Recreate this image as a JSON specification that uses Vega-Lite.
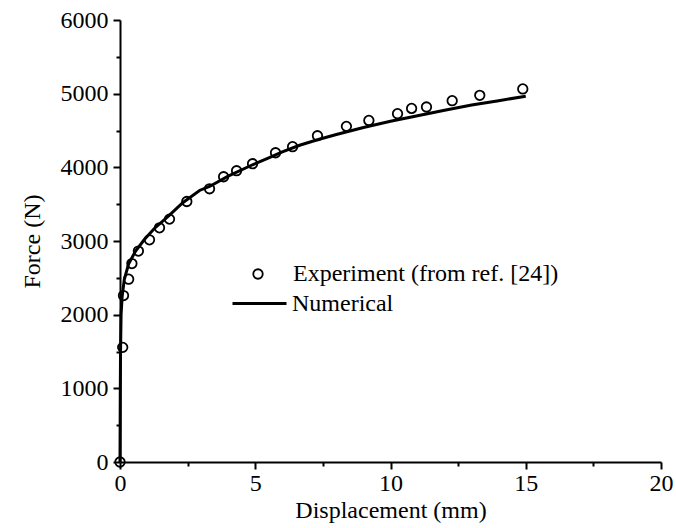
{
  "$schema": "https://vega.github.io/schema/vega-lite/v6.json",
  "width": 541,
  "height": 442,
  "autosize": {"type": "none"},
  "padding": {"left": 120, "top": 20, "right": 15, "bottom": 66},
  "background": "white",
  "config": {
    "view": {"stroke": null},
    "font": "Liberation Serif",
    "axis": {
      "labelFont": "Liberation Serif",
      "titleFont": "Liberation Serif",
      "labelFontSize": 24,
      "titleFontSize": 24,
      "titleFontWeight": "normal",
      "labelColor": "black",
      "titleColor": "black",
      "domainColor": "black",
      "tickColor": "black",
      "domainWidth": 2,
      "tickWidth": 2,
      "grid": false
    },
    "legend": {
      "labelFont": "Liberation Serif",
      "labelFontSize": 24,
      "labelColor": "black",
      "labelLimit": 500,
      "padding": 0
    }
  },
  "datasets": {
    "exp": [
      {"x": 0, "y": 0, "series": "Experiment (from ref. [24])"},
      {"x": 0.1, "y": 1556, "series": "Experiment (from ref. [24])"},
      {"x": 0.13, "y": 2259, "series": "Experiment (from ref. [24])"},
      {"x": 0.32, "y": 2482, "series": "Experiment (from ref. [24])"},
      {"x": 0.44, "y": 2694, "series": "Experiment (from ref. [24])"},
      {"x": 0.68, "y": 2863, "series": "Experiment (from ref. [24])"},
      {"x": 1.09, "y": 3016, "series": "Experiment (from ref. [24])"},
      {"x": 1.46, "y": 3179, "series": "Experiment (from ref. [24])"},
      {"x": 1.83, "y": 3297, "series": "Experiment (from ref. [24])"},
      {"x": 2.47, "y": 3536, "series": "Experiment (from ref. [24])"},
      {"x": 3.31, "y": 3709, "series": "Experiment (from ref. [24])"},
      {"x": 3.83, "y": 3872, "series": "Experiment (from ref. [24])"},
      {"x": 4.31, "y": 3954, "series": "Experiment (from ref. [24])"},
      {"x": 4.9, "y": 4049, "series": "Experiment (from ref. [24])"},
      {"x": 5.75, "y": 4198, "series": "Experiment (from ref. [24])"},
      {"x": 6.38, "y": 4280, "series": "Experiment (from ref. [24])"},
      {"x": 7.3, "y": 4429, "series": "Experiment (from ref. [24])"},
      {"x": 8.37, "y": 4556, "series": "Experiment (from ref. [24])"},
      {"x": 9.2, "y": 4637, "series": "Experiment (from ref. [24])"},
      {"x": 10.26, "y": 4728, "series": "Experiment (from ref. [24])"},
      {"x": 10.78, "y": 4800, "series": "Experiment (from ref. [24])"},
      {"x": 11.33, "y": 4819, "series": "Experiment (from ref. [24])"},
      {"x": 12.28, "y": 4905, "series": "Experiment (from ref. [24])"},
      {"x": 13.3, "y": 4977, "series": "Experiment (from ref. [24])"},
      {"x": 14.89, "y": 5064, "series": "Experiment (from ref. [24])"}
    ],
    "num": [
      {"x": 0, "y": 0, "series": "Numerical"},
      {"x": 0.01, "y": 900, "series": "Numerical"},
      {"x": 0.02, "y": 1500, "series": "Numerical"},
      {"x": 0.04, "y": 2000, "series": "Numerical"},
      {"x": 0.08, "y": 2250, "series": "Numerical"},
      {"x": 0.16, "y": 2480, "series": "Numerical"},
      {"x": 0.32, "y": 2690, "series": "Numerical"},
      {"x": 0.57, "y": 2860, "series": "Numerical"},
      {"x": 0.9, "y": 3020, "series": "Numerical"},
      {"x": 1.27, "y": 3170, "series": "Numerical"},
      {"x": 1.8, "y": 3340, "series": "Numerical"},
      {"x": 2.32, "y": 3520, "series": "Numerical"},
      {"x": 2.94, "y": 3686, "series": "Numerical"},
      {"x": 3.31, "y": 3740, "series": "Numerical"},
      {"x": 4, "y": 3880, "series": "Numerical"},
      {"x": 4.9, "y": 4035, "series": "Numerical"},
      {"x": 5.5, "y": 4130, "series": "Numerical"},
      {"x": 6, "y": 4210, "series": "Numerical"},
      {"x": 6.64, "y": 4300, "series": "Numerical"},
      {"x": 7.3, "y": 4375, "series": "Numerical"},
      {"x": 8, "y": 4445, "series": "Numerical"},
      {"x": 9, "y": 4540, "series": "Numerical"},
      {"x": 10, "y": 4625, "series": "Numerical"},
      {"x": 11, "y": 4700, "series": "Numerical"},
      {"x": 12, "y": 4775, "series": "Numerical"},
      {"x": 13, "y": 4845, "series": "Numerical"},
      {"x": 14, "y": 4905, "series": "Numerical"},
      {"x": 15, "y": 4966, "series": "Numerical"}
    ]
  },
  "encoding": {
    "x": {
      "field": "x",
      "type": "quantitative",
      "scale": {"domain": [0, 20], "nice": false, "zero": false},
      "axis": {
        "title": "Displacement (mm)",
        "values": [0, 2.5, 5, 7.5, 10, 12.5, 15, 17.5, 20],
        "labelExpr": "datum.value % 5 === 0 ? datum.label : ''",
        "tickSize": {"condition": {"test": "datum.value % 5 === 0", "value": 7}, "value": 4},
        "labelPadding": 2,
        "titlePadding": 3,
        "labelFlush": false,
        "labelOverlap": false
      }
    },
    "y": {
      "field": "y",
      "type": "quantitative",
      "scale": {"domain": [0, 6000], "nice": false},
      "axis": {
        "title": "Force (N)",
        "values": [0, 500, 1000, 1500, 2000, 2500, 3000, 3500, 4000, 4500, 5000, 5500, 6000],
        "labelExpr": "datum.value % 1000 === 0 ? datum.label : ''",
        "format": "d",
        "tickSize": {"condition": {"test": "datum.value % 1000 === 0", "value": 7}, "value": 4},
        "labelPadding": 5,
        "titlePadding": 16,
        "labelFlush": false,
        "labelOverlap": false
      }
    }
  },
  "layer": [
    {
      "data": {"name": "num"},
      "mark": {"type": "line", "strokeWidth": 3, "color": "black"},
      "encoding": {
        "color": {
          "field": "series",
          "type": "nominal",
          "scale": {"range": ["black"]},
          "legend": {
            "title": null,
            "orient": "none",
            "legendX": 111,
            "legendY": 255,
            "symbolType": "stroke",
            "symbolSize": 2916,
            "symbolStrokeWidth": 3,
            "symbolStrokeColor": "black",
            "labelOffset": 4
          }
        }
      }
    },
    {
      "data": {"name": "exp"},
      "mark": {"type": "point", "shape": "circle", "filled": false, "size": 90, "strokeWidth": 1.8, "color": "black", "opacity": 1},
      "encoding": {
        "shape": {
          "field": "series",
          "type": "nominal",
          "scale": {"range": ["circle"]},
          "legend": {
            "title": null,
            "orient": "none",
            "legendX": 126,
            "legendY": 242,
            "symbolSize": 90,
            "symbolStrokeWidth": 1.8,
            "symbolStrokeColor": "black",
            "symbolFillColor": "transparent",
            "labelOffset": 23
          }
        }
      }
    }
  ]
}
